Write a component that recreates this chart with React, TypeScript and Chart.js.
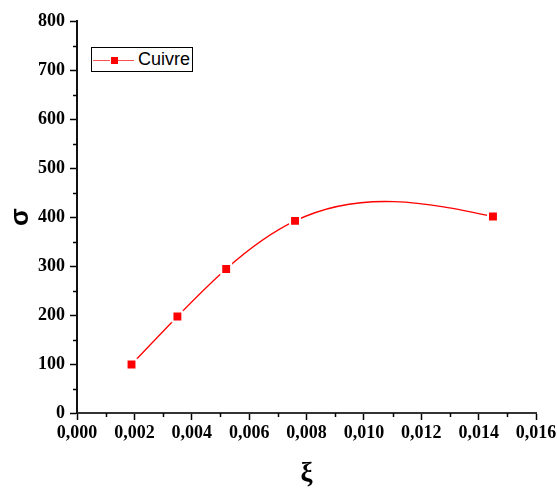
import React, { useEffect, useRef } from "react";
import { Chart, registerables } from "chart.js";

Chart.register(...registerables);

// ---- data ----
const seriesName = "Cuivre";
const strainValues = [0.0019, 0.0035, 0.0052, 0.0076, 0.0145];
const stressValues = [99, 197, 294, 392, 401];
const xTickValues = [0, 0.002, 0.004, 0.006, 0.008, 0.01, 0.012, 0.014, 0.016];
const yTickValues = [0, 100, 200, 300, 400, 500, 600, 700, 800];
const xTitle = "ξ";
const yTitle = "σ";

const RED = "#ff0000";

// natural cubic spline through the dataset points (as Origin's spline line)
const splinePlugin = {
  id: "naturalSpline",
  beforeDatasetDraw(chart: any, args: any) {
    const meta = args.meta;
    const line = meta.dataset;
    const pts = meta.data;
    const n = pts.length;
    if (!line || n < 3) return;
    line.updateControlPoints(chart.chartArea, meta.iScale.axis);
    const raw = chart.data.datasets[args.index].data as { x: number; y: number }[];
    const xs = raw.map((d) => d.x);
    const ys = raw.map((d) => d.y);
    const h: number[] = [];
    for (let i = 0; i < n - 1; i++) h.push(xs[i + 1] - xs[i]);
    const M = new Array(n).fill(0);
    const m = n - 2;
    const a: number[] = [], b: number[] = [], c: number[] = [], d: number[] = [];
    for (let k = 0; k < m; k++) {
      const i = k + 1;
      a.push(h[i - 1]);
      b.push(2 * (h[i - 1] + h[i]));
      c.push(h[i]);
      d.push(6 * ((ys[i + 1] - ys[i]) / h[i] - (ys[i] - ys[i - 1]) / h[i - 1]));
    }
    for (let k = 1; k < m; k++) {
      const w = a[k] / b[k - 1];
      b[k] -= w * c[k - 1];
      d[k] -= w * d[k - 1];
    }
    const sol = new Array(m).fill(0);
    sol[m - 1] = d[m - 1] / b[m - 1];
    for (let k = m - 2; k >= 0; k--) sol[k] = (d[k] - c[k] * sol[k + 1]) / b[k];
    for (let k = 0; k < m; k++) M[k + 1] = sol[k];
    const xs_ = meta.xScale, ys_ = meta.yScale;
    for (let i = 0; i < n - 1; i++) {
      const hi = h[i];
      const s = (ys[i + 1] - ys[i]) / hi;
      const dL = s - (hi * (2 * M[i] + M[i + 1])) / 6;
      const dR = s + (hi * (M[i] + 2 * M[i + 1])) / 6;
      pts[i].cp2x = xs_.getPixelForValue(xs[i] + hi / 3);
      pts[i].cp2y = ys_.getPixelForValue(ys[i] + (dL * hi) / 3);
      pts[i + 1].cp1x = xs_.getPixelForValue(xs[i + 1] - hi / 3);
      pts[i + 1].cp1y = ys_.getPixelForValue(ys[i + 1] - (dR * hi) / 3);
    }
  },
};

// minor ticks (half steps)
const minorTicksPlugin = {
  id: "minorTicks",
  afterDraw(chart: any) {
    const { ctx, chartArea, scales } = chart;
    ctx.save();
    ctx.strokeStyle = "#000";
    ctx.lineWidth = 1.5;
    ctx.beginPath();
    for (let i = 0; i < yTickValues.length - 1; i++) {
      const v = (yTickValues[i] + yTickValues[i + 1]) / 2;
      const y = Math.round(scales.y.getPixelForValue(v)) + 0.5;
      ctx.moveTo(chartArea.left - 4, y);
      ctx.lineTo(chartArea.left, y);
    }
    for (let i = 0; i < xTickValues.length - 1; i++) {
      const v = (xTickValues[i] + xTickValues[i + 1]) / 2;
      const x = Math.round(scales.x.getPixelForValue(v)) + 0.5;
      ctx.moveTo(x, chartArea.bottom);
      ctx.lineTo(x, chartArea.bottom + 4);
    }
    ctx.stroke();
    ctx.restore();
  },
};

export default function App() {
  const canvasRef = useRef<HTMLCanvasElement | null>(null);

  useEffect(() => {
    const canvas = canvasRef.current;
    if (!canvas) return;
    const tickFont = { family: "'Liberation Serif', 'Times New Roman', serif", weight: "bold" as const, size: 18 };
    const chart = new Chart(canvas, {
      type: "line",
      data: {
        datasets: [
          {
            label: seriesName,
            data: strainValues.map((x, i) => ({ x, y: stressValues[i] })),
            borderColor: RED,
            borderWidth: 1.3,
            tension: 0.4,
            pointStyle: "rect",
            pointRadius: 7,
            pointHoverRadius: 7,
            pointBackgroundColor: RED,
            pointBorderColor: "#ffffff",
            pointBorderWidth: 2,
            fill: false,
          },
        ],
      },
      options: {
        responsive: false,
        animation: false,
        devicePixelRatio: 1,
        layout: { padding: { left: 0, top: 21, right: 21, bottom: 0 } },
        plugins: {
          legend: { display: false },
          tooltip: { enabled: false },
        },
        scales: {
          x: {
            type: "linear",
            min: 0,
            max: 0.016,
            afterFit: (s: any) => {
              s.height = 75;
              s.paddingRight = 0;
              s.paddingLeft = 0;
            },
            afterBuildTicks: (s: any) => {
              s.ticks = xTickValues.map((v) => ({ value: v }));
            },
            ticks: {
              font: tickFont,
              color: "#000",
              padding: 3,
              maxRotation: 0,
              autoSkip: false,
              callback: (v: any) => Number(v).toFixed(3).replace(".", ","),
            },
            grid: {
              drawOnChartArea: false,
              drawTicks: true,
              tickLength: 7,
              tickColor: "#000",
              tickWidth: 1.5,
            },
            border: { display: true, color: "#333", width: 2 },
            title: {
              display: true,
              text: xTitle,
              color: "#000",
              font: { family: "'Liberation Serif', serif", weight: "bold", size: 27, lineHeight: 1.05 },
              padding: { top: 0, bottom: 0 },
            },
          },
          y: {
            type: "linear",
            min: 0,
            max: 800,
            afterFit: (s: any) => {
              s.width = 77;
              s.paddingTop = 0;
              s.paddingBottom = 0;
            },
            afterBuildTicks: (s: any) => {
              s.ticks = yTickValues.map((v) => ({ value: v }));
            },
            ticks: {
              font: tickFont,
              color: "#000",
              padding: 5,
              autoSkip: false,
              callback: (v: any) => String(v),
            },
            grid: {
              drawOnChartArea: false,
              drawTicks: true,
              tickLength: 7,
              tickColor: "#000",
              tickWidth: 1.5,
            },
            border: { display: true, color: "#111", width: 2 },
            title: {
              display: true,
              text: yTitle,
              color: "#000",
              font: { family: "'Liberation Sans', Arial, sans-serif", weight: "bold", size: 26 },
              padding: { top: 5, bottom: 0 },
            },
          },
        },
      },
      plugins: [splinePlugin, minorTicksPlugin],
    });
    return () => chart.destroy();
  }, []);

  return (
    <div style={{ position: "fixed", left: 0, top: 0, width: 557, height: 488, background: "#fff" }}>
      <canvas ref={canvasRef} width={557} height={488} style={{ position: "absolute", left: 0, top: 0 }} />
      <div
        style={{
          position: "absolute",
          left: 91,
          top: 47,
          width: 102,
          height: 25,
          boxSizing: "border-box",
          border: "1px solid #000",
          background: "#fff",
        }}
      >
        <div style={{ position: "absolute", left: 1, top: 12, width: 17, height: 1, background: "#ff5050" }} />
        <div style={{ position: "absolute", left: 26, top: 12, width: 16, height: 1, background: "#ff5050" }} />
        <div style={{ position: "absolute", left: 19, top: 9, width: 7, height: 7, background: RED }} />
        <span
          style={{
            position: "absolute",
            left: 46,
            top: 0,
            lineHeight: "23px",
            fontFamily: "'Liberation Sans', Arial, sans-serif",
            fontSize: 18,
            color: "#000",
            whiteSpace: "nowrap",
          }}
        >
          {seriesName}
        </span>
      </div>
    </div>
  );
}
